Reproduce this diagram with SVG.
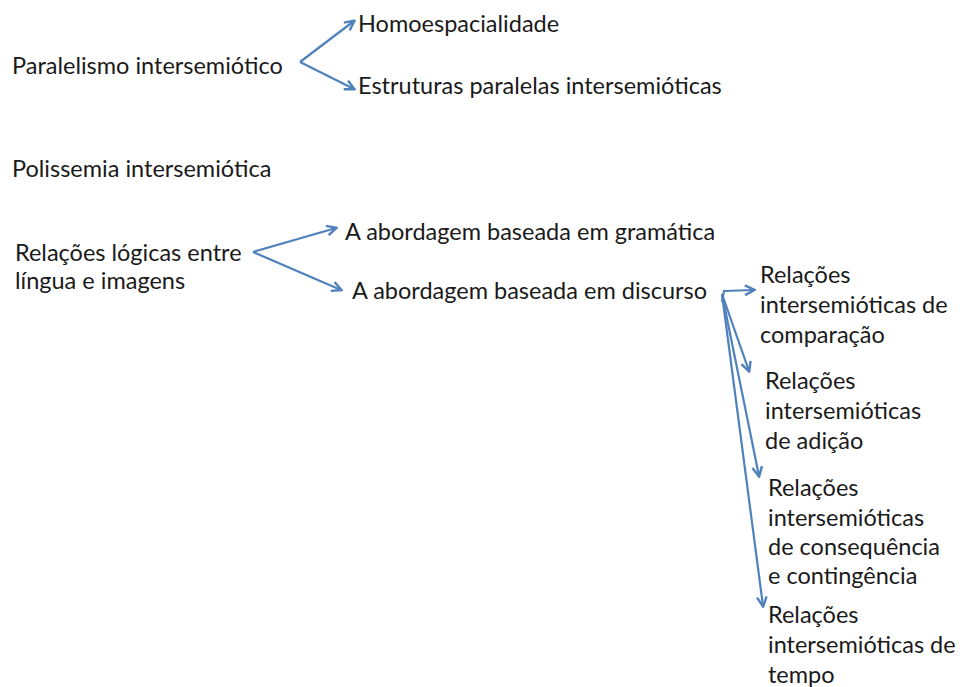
<svg xmlns="http://www.w3.org/2000/svg" width="960" height="687" viewBox="0 0 960 687">
<style>
text{font-family:Lato,"Open Sans","Liberation Sans",sans-serif;font-size:23.5px;fill:#1a1a1a}
.c{fill:none;stroke:#4f81bd;stroke-width:2.2;marker-end:url(#ah)}
</style>
<defs>
<marker id="ah" viewBox="0 0 10 10" refX="8.5" refY="5" markerWidth="5.5" markerHeight="5.5" orient="auto" markerUnits="strokeWidth">
<path d="M1,1 L9,5 L1,9" fill="none" stroke="#4f81bd" stroke-width="2"/>
</marker>
</defs>
<rect width="960" height="687" fill="#fff"/>
<g id="connectors">
<path class="c" d="M300,62 L354,21"/>
<path class="c" d="M300,62 L354,89"/>
<path class="c" d="M253,252 L336,228"/>
<path class="c" d="M253,252 L341,290"/>
<path class="c" d="M722,302 L724,291 L754,290"/>
<path class="c" d="M722,294 L749,371"/>
<path class="c" d="M722,294 L759,476"/>
<path class="c" d="M722,294 L763,606"/>
</g>
<g id="n1"><text x="12" y="74">Paralelismo intersemiótico</text></g>
<g id="n2"><text x="358" y="32">Homoespacialidade</text></g>
<g id="n3"><text x="358" y="94">Estruturas paralelas intersemióticas</text></g>
<g id="n4"><text x="12" y="177">Polissemia intersemiótica</text></g>
<g id="n5"><text x="15" y="261">Relações lógicas entre</text><text x="15" y="289">língua e imagens</text></g>
<g id="n6"><text x="345" y="240">A abordagem baseada em gramática</text></g>
<g id="n7"><text x="352" y="299">A abordagem baseada em discurso</text></g>
<g id="n8"><text x="760" y="283">Relações</text><text x="760" y="313">intersemióticas de</text><text x="760" y="343">comparação</text></g>
<g id="n9"><text x="765" y="389">Relações</text><text x="765" y="419">intersemióticas</text><text x="765" y="449">de adição</text></g>
<g id="n10"><text x="768" y="496">Relações</text><text x="768" y="526">intersemióticas</text><text x="768" y="555">de consequência</text><text x="768" y="584">e contingência</text></g>
<g id="n11"><text x="768" y="623">Relações</text><text x="768" y="653">intersemióticas de</text><text x="768" y="683">tempo</text></g>
</svg>
